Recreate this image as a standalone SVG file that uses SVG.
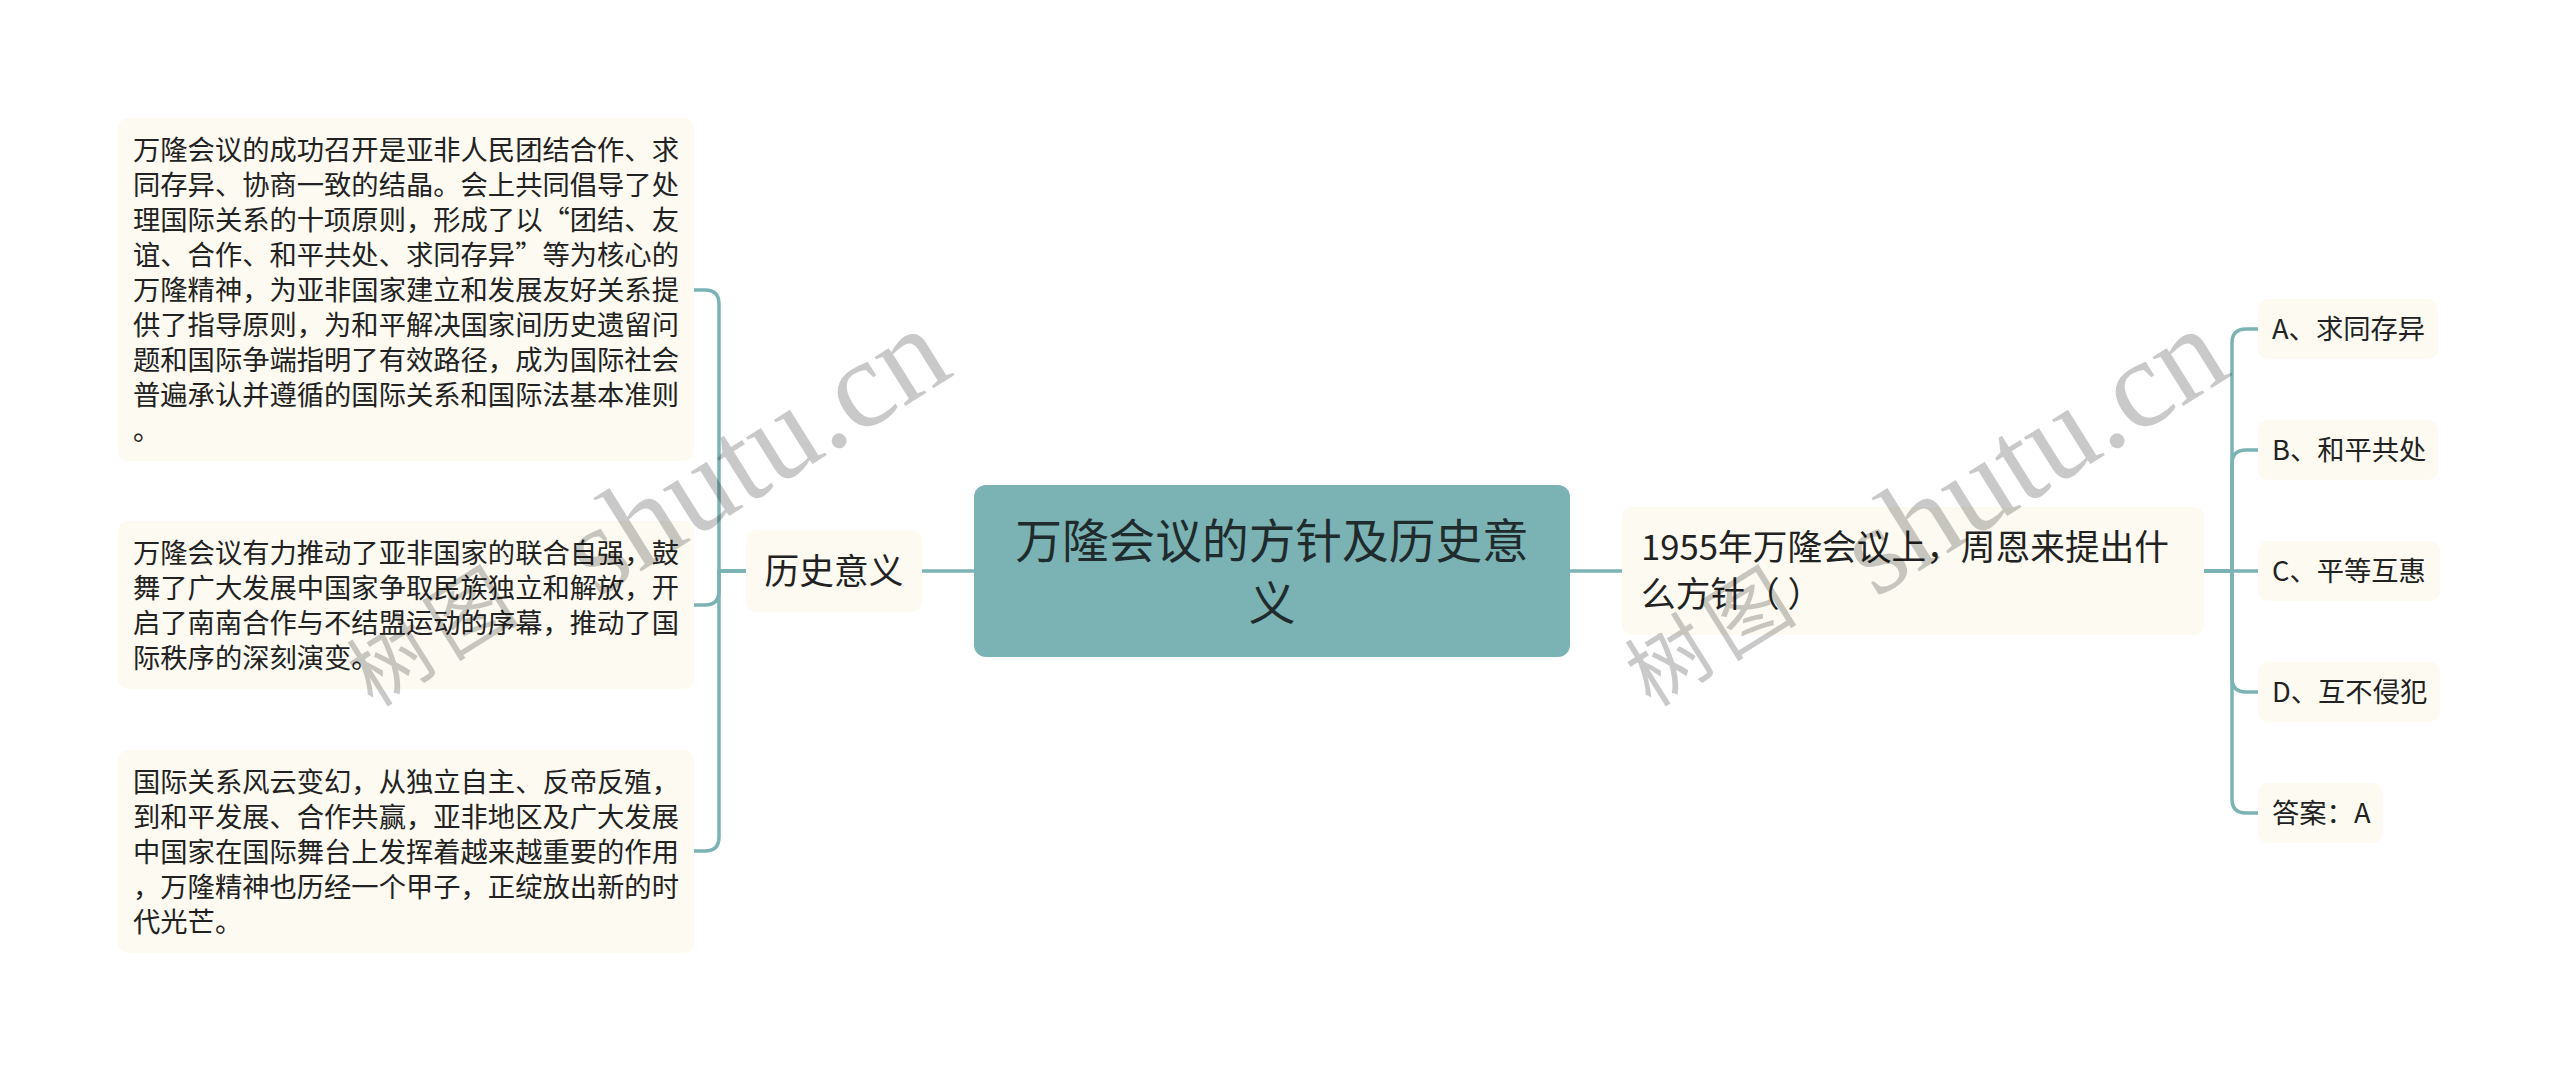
<svg xmlns="http://www.w3.org/2000/svg" width="2560" height="1072" viewBox="0 0 2560 1072">
<style>
.bg{fill:#ffffff}
.leaf{fill:#fcfaf1}
.root{fill:#7bb3b5}
.t{font-family:"Noto Sans CJK SC","Noto Sans",sans-serif;fill:#222222}
.t27{font-size:27.3px}
.t35{font-size:34.7px}
.t47{font-size:46.7px;fill:#1f2b2c}
.conn{fill:none;stroke:#7bb3b5;stroke-width:3.5;stroke-linecap:round;stroke-linejoin:round}
.wmc{font-family:"Noto Sans CJK SC",sans-serif;font-size:82px;letter-spacing:10px;fill:#000000;fill-opacity:0.21}
.wml{font-family:"Liberation Serif",serif;font-size:126px;fill:#000000;fill-opacity:0.21}
</style>
<rect class="bg" x="0" y="0" width="2560" height="1072"/>
<g id="connectors">
<path class="conn" d="M922,571 H974"/>
<path class="conn" d="M1570,571 H1622"/>
<path class="conn" d="M746,571 H719 V304 Q719,290 705,290 H694"/>
<path class="conn" d="M746,571 H719 V591 Q719,605 705,605 H694"/>
<path class="conn" d="M746,571 H719 V837 Q719,851 705,851 H694"/>
<path class="conn" d="M2204,571 H2232 V343 Q2232,329 2246,329 H2258"/>
<path class="conn" d="M2204,571 H2232 V464 Q2232,450 2246,450 H2258"/>
<path class="conn" d="M2204,571 H2258"/>
<path class="conn" d="M2204,571 H2232 V678 Q2232,692 2246,692 H2258"/>
<path class="conn" d="M2204,571 H2232 V799 Q2232,813 2246,813 H2258"/>
</g>
<g id="root">
<rect class="root" x="974" y="485" width="596" height="172" rx="12"/>
<text class="t t47" text-anchor="middle"><tspan x="1272" y="558">万隆会议的方针及历史意</tspan><tspan x="1272" y="620">义</tspan></text>
</g>
<g id="n-lishi">
<rect class="leaf" x="746" y="530" width="176" height="82" rx="10"/>
<text class="t t35" x="834" y="584" text-anchor="middle">历史意义</text>
</g>
<g id="n-leaf1">
<rect class="leaf" x="118" y="118" width="576" height="343" rx="10"/>
<text class="t t27"><tspan x="133" y="160">万隆会议的成功召开是亚非人民团结合作、求</tspan><tspan x="133" y="195">同存异、协商一致的结晶。会上共同倡导了处</tspan><tspan x="133" y="230">理国际关系的十项原则，形成了以“团结、友</tspan><tspan x="133" y="265">谊、合作、和平共处、求同存异”等为核心的</tspan><tspan x="133" y="300">万隆精神，为亚非国家建立和发展友好关系提</tspan><tspan x="133" y="335">供了指导原则，为和平解决国家间历史遗留问</tspan><tspan x="133" y="370">题和国际争端指明了有效路径，成为国际社会</tspan><tspan x="133" y="405">普遍承认并遵循的国际关系和国际法基本准则</tspan><tspan x="133" y="440">。</tspan></text>
</g>
<g id="n-leaf2">
<rect class="leaf" x="118" y="521" width="576" height="168" rx="10"/>
<text class="t t27"><tspan x="133" y="563">万隆会议有力推动了亚非国家的联合自强，鼓</tspan><tspan x="133" y="598">舞了广大发展中国家争取民族独立和解放，开</tspan><tspan x="133" y="633">启了南南合作与不结盟运动的序幕，推动了国</tspan><tspan x="133" y="668">际秩序的深刻演变。</tspan></text>
</g>
<g id="n-leaf3">
<rect class="leaf" x="118" y="750" width="576" height="203" rx="10"/>
<text class="t t27"><tspan x="133" y="792">国际关系风云变幻，从独立自主、反帝反殖，</tspan><tspan x="133" y="827">到和平发展、合作共赢，亚非地区及广大发展</tspan><tspan x="133" y="862">中国家在国际舞台上发挥着越来越重要的作用</tspan><tspan x="133" y="897">，万隆精神也历经一个甲子，正绽放出新的时</tspan><tspan x="133" y="932">代光芒。</tspan></text>
</g>
<g id="n-question">
<rect class="leaf" x="1622" y="507" width="582" height="128" rx="10"/>
<text class="t t35"><tspan x="1641" y="560">1955年万隆会议上，周恩来提出什</tspan><tspan x="1641" y="607">么方针（ ）</tspan></text>
</g>
<g id="n-a">
<rect class="leaf" x="2258" y="299" width="180" height="60" rx="10"/>
<text class="t t27" x="2272" y="339">A、求同存异</text>
</g>
<g id="n-b">
<rect class="leaf" x="2258" y="420" width="180" height="60" rx="10"/>
<text class="t t27" x="2272" y="460">B、和平共处</text>
</g>
<g id="n-c">
<rect class="leaf" x="2258" y="541" width="182" height="60" rx="10"/>
<text class="t t27" x="2272" y="581">C、平等互惠</text>
</g>
<g id="n-d">
<rect class="leaf" x="2258" y="662" width="182" height="60" rx="10"/>
<text class="t t27" x="2272" y="702">D、互不侵犯</text>
</g>
<g id="n-answer">
<rect class="leaf" x="2258" y="783" width="125" height="60" rx="10"/>
<text class="t t27" x="2272" y="823">答案：A</text>
</g>
<g id="watermarks">
<g transform="translate(373,708) rotate(-32)">
<text class="wmc" x="0" y="0">树图</text>
<text class="wml" x="248" y="26">shutu.cn</text>
</g>
<g transform="translate(1651,708) rotate(-32)">
<text class="wmc" x="0" y="0">树图</text>
<text class="wml" x="248" y="26">shutu.cn</text>
</g>
</g>
</svg>
